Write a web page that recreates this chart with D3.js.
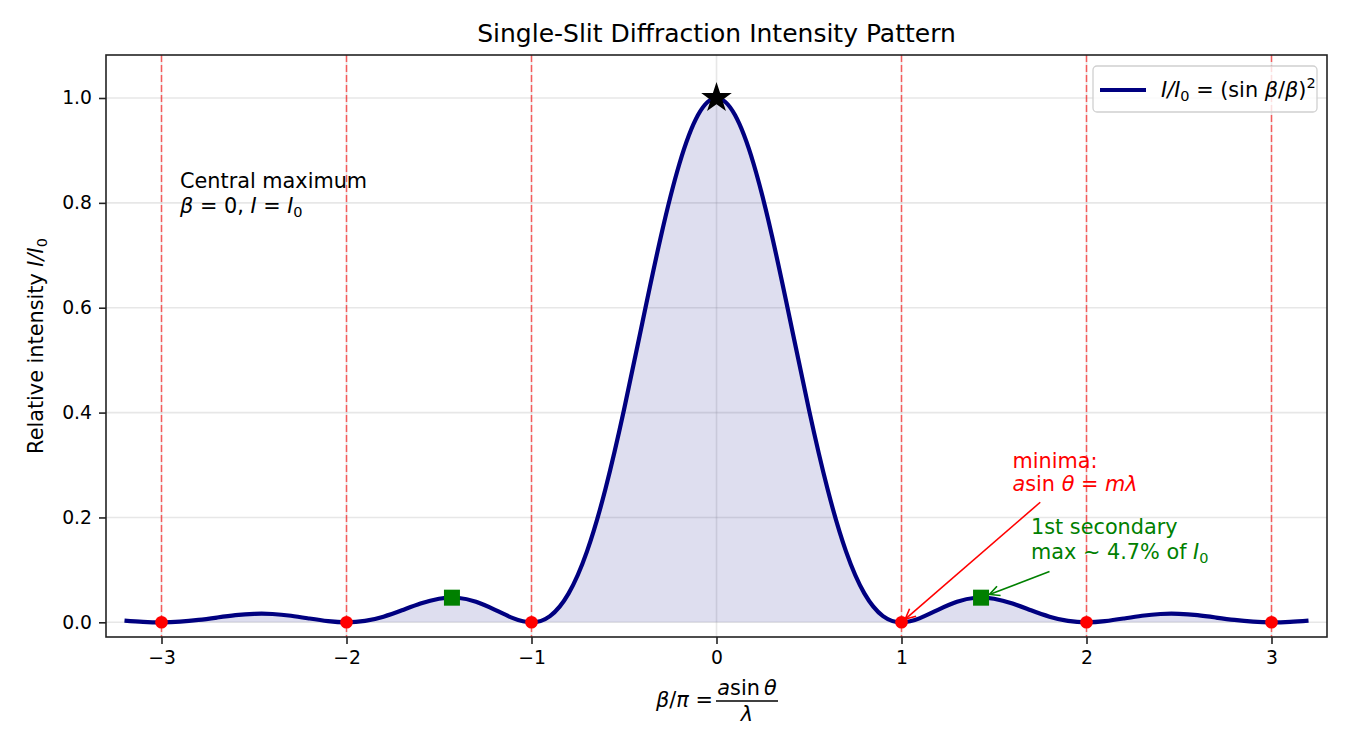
<!DOCTYPE html>
<html>
<head>
<meta charset="utf-8">
<script src="https://cdn.jsdelivr.net/npm/d3@7"></script>
<style>
  body { margin: 0; background: #fff; }
  text { font-family: "DejaVu Sans", sans-serif; }
</style>
</head>
<body>
<div class="canvas"></div>
<script>
// data
const beta = [-3.2, -3.1, -3.0, -2.9, -2.8, -2.7, -2.6, -2.5, -2.4, -2.3, -2.2, -2.1,
  -2.0, -1.9, -1.8, -1.7, -1.6, -1.5, -1.4, -1.3, -1.2, -1.1, -1.0, -0.9, -0.8,
  -0.7, -0.6, -0.5, -0.4, -0.3, -0.2, -0.1, 0.0, 0.1, 0.2, 0.3, 0.4, 0.5, 0.6,
  0.7, 0.8, 0.9, 1.0, 1.1, 1.2, 1.3, 1.4, 1.5, 1.6, 1.7, 1.8, 1.9, 2.0, 2.1, 2.2,
  2.3, 2.4, 2.5, 2.6, 2.7, 2.8, 2.9, 3.0, 3.1, 3.2]
const intensity = [0.0034, 0.0010, 0.0, 0.0012, 0.0045, 0.0091, 0.0136, 0.0162, 0.0159, 0.0125, 0.0072, 0.0022,
  0.0, 0.0027, 0.0108, 0.0229, 0.0358, 0.0450, 0.0468, 0.0392, 0.0243, 0.0080, 0.0, 0.0119, 0.0547,
  0.1353, 0.2546, 0.4053, 0.5728, 0.7368, 0.8751, 0.9675, 1.0, 0.9675, 0.8751, 0.7368, 0.5728, 0.4053, 0.2546,
  0.1353, 0.0547, 0.0119, 0.0, 0.0080, 0.0243, 0.0392, 0.0468, 0.0450, 0.0358, 0.0229, 0.0108, 0.0027, 0.0, 0.0022, 0.0072,
  0.0125, 0.0159, 0.0162, 0.0136, 0.0091, 0.0045, 0.0012, 0.0, 0.0010, 0.0034]

const minimaX = [-3, -2, -1, 1, 2, 3]
const secondaryX = [-1.43, 1.43]
const secondaryY = 0.047
const centralMax = {beta: 0, intensity: 1.0}

const xTicks = [-3, -2, -1, 0, 1, 2, 3]
const yTicks = [0.0, 0.2, 0.4, 0.6, 0.8, 1.0]

const points = beta.map((b, i) => ({b: b, v: intensity[i]}))

// layout
const svgWidth = 1350
const svgHeight = 750
const margin = {top: 55, right: 23, bottom: 113, left: 106}
const graphWidth = svgWidth - margin.left - margin.right
const graphHeight = svgHeight - margin.top - margin.bottom

const svg = d3.select('.canvas')
  .append('svg')
  .attr('width', svgWidth)
  .attr('height', svgHeight)

const graph = svg.append('g')
  .attr('transform', `translate(${margin.left}, ${margin.top})`)

const x = d3.scaleLinear().domain([-3.3, 3.3]).range([0, graphWidth])
const y = d3.scaleLinear().domain([-0.028, 1.082]).range([graphHeight, 0])

// grid
graph.append('g').selectAll('line')
  .data(xTicks).enter().append('line')
  .attr('x1', d => x(d)).attr('x2', d => x(d))
  .attr('y1', 0).attr('y2', graphHeight)
  .attr('stroke', '#b0b0b0').attr('stroke-opacity', 0.3).attr('stroke-width', 1.6)

graph.append('g').selectAll('line')
  .data(yTicks).enter().append('line')
  .attr('x1', 0).attr('x2', graphWidth)
  .attr('y1', d => y(d)).attr('y2', d => y(d))
  .attr('stroke', '#b0b0b0').attr('stroke-opacity', 0.3).attr('stroke-width', 1.6)

// minima dashed lines
graph.append('g').selectAll('line')
  .data(minimaX).enter().append('line')
  .attr('x1', d => x(d)).attr('x2', d => x(d))
  .attr('y1', 0).attr('y2', graphHeight)
  .attr('stroke', 'red').attr('stroke-opacity', 0.6).attr('stroke-width', 1.5)
  .attr('stroke-dasharray', '7,3')

// fill + curve
const area = d3.area()
  .x(d => x(d.b)).y0(y(0)).y1(d => y(d.v))
  .curve(d3.curveNatural)

const line = d3.line()
  .x(d => x(d.b)).y(d => y(d.v))
  .curve(d3.curveNatural)

graph.append('path')
  .datum(points)
  .attr('d', area)
  .attr('fill', 'navy').attr('fill-opacity', 0.13)

graph.append('path')
  .datum(points)
  .attr('d', line)
  .attr('fill', 'none').attr('stroke', 'navy').attr('stroke-width', 4.2)

// markers
graph.append('g').selectAll('circle')
  .data(minimaX).enter().append('circle')
  .attr('cx', d => x(d)).attr('cy', y(0)).attr('r', 6.3)
  .attr('fill', 'red')

graph.append('g').selectAll('rect')
  .data(secondaryX).enter().append('rect')
  .attr('x', d => x(d) - 8).attr('y', y(secondaryY) - 8)
  .attr('width', 16).attr('height', 16)
  .attr('fill', 'green')

graph.append('path')
  .attr('d', d3.symbol().type(d3.symbolStar).size(290)())
  .attr('transform', `translate(${x(centralMax.beta)}, ${y(centralMax.intensity)})`)
  .attr('fill', 'black')

// axes
const xAxis = d3.axisBottom(x)
  .tickValues(xTicks)
  .tickSize(7).tickPadding(7)
  .tickFormat(d => d < 0 ? '\u2212' + Math.abs(d) : d)

const yAxis = d3.axisLeft(y)
  .tickValues(yTicks)
  .tickSize(7).tickPadding(7)
  .tickFormat(d3.format('.1f'))

const xAxisGroup = graph.append('g')
  .attr('transform', `translate(0, ${graphHeight})`)
  .call(xAxis)
const yAxisGroup = graph.append('g').call(yAxis)

;[xAxisGroup, yAxisGroup].forEach(g => {
  g.select('.domain').remove()
  g.selectAll('.tick line').attr('stroke', '#222').attr('stroke-width', 1.6)
  g.selectAll('text').attr('font-size', '18.75px').attr('fill', '#000')
    .attr('font-family', '"DejaVu Sans", sans-serif')
})

// frame
graph.append('rect')
  .attr('width', graphWidth).attr('height', graphHeight)
  .attr('fill', 'none').attr('stroke', '#222').attr('stroke-width', 1.6)

// title
svg.append('text')
  .attr('x', margin.left + graphWidth / 2).attr('y', 42)
  .attr('text-anchor', 'middle').attr('font-size', '25px')
  .text('Single-Slit Diffraction Intensity Pattern')

// y label
const yLabel = svg.append('text')
  .attr('transform', `translate(43, ${margin.top + graphHeight / 2}) rotate(-90)`)
  .attr('text-anchor', 'middle').attr('font-size', '20.8px')
yLabel.append('tspan').text('Relative intensity ')
yLabel.append('tspan').attr('font-style', 'italic').text('I/I')
yLabel.append('tspan').attr('font-size', '14.5px').attr('dy', 4).text('0')

// x label: beta/pi = a sin(theta) / lambda
const xl = svg.append('g').attr('font-size', '20.8px')
xl.append('text').attr('x', 656).attr('y', 707)
  .call(t => {
    t.append('tspan').attr('font-style', 'italic').text('β')
    t.append('tspan').text('/')
    t.append('tspan').attr('font-style', 'italic').text('π')
    t.append('tspan').text(' =')
  })
xl.append('text').attr('x', 747).attr('y', 695).attr('text-anchor', 'middle')
  .call(t => {
    t.append('tspan').attr('font-style', 'italic').text('a')
    t.append('tspan').text('sin')
    t.append('tspan').attr('font-style', 'italic').attr('dx', 4).text('θ')
  })
xl.append('line').attr('x1', 716).attr('x2', 778).attr('y1', 701).attr('y2', 701)
  .attr('stroke', '#000').attr('stroke-width', 1.3)
xl.append('text').attr('x', 747).attr('y', 721).attr('text-anchor', 'middle')
  .attr('font-style', 'italic').text('λ')

// legend
const legend = svg.append('g')
legend.append('rect')
  .attr('x', 1093).attr('y', 66).attr('width', 224).attr('height', 46).attr('rx', 4)
  .attr('fill', '#fff').attr('fill-opacity', 0.8)
  .attr('stroke', '#d0d0d0').attr('stroke-width', 1.3)
legend.append('line')
  .attr('x1', 1100).attr('x2', 1146).attr('y1', 90).attr('y2', 90)
  .attr('stroke', 'navy').attr('stroke-width', 4.2)
legend.append('text').attr('x', 1161).attr('y', 97).attr('font-size', '20.8px')
  .call(t => {
    t.append('tspan').attr('font-style', 'italic').text('I/I')
    t.append('tspan').attr('font-size', '14.5px').attr('dy', 4).text('0')
    t.append('tspan').attr('dy', -4).text(' = (sin ')
    t.append('tspan').attr('font-style', 'italic').text('β')
    t.append('tspan').text('/')
    t.append('tspan').attr('font-style', 'italic').text('β')
    t.append('tspan').text(')')
    t.append('tspan').attr('font-size', '14.5px').attr('dy', -9).text('2')
  })

// annotations
const ann = graph.append('g').attr('font-size', '20.8px')

const central = ann.append('text').attr('x', x(-2.9)).attr('y', y(0.78) - 25)
central.append('tspan').text('Central maximum')
const central2 = ann.append('text').attr('x', x(-2.9)).attr('y', y(0.78))
central2.append('tspan').attr('font-style', 'italic').text('β')
central2.append('tspan').text(' = 0,  ')
central2.append('tspan').attr('font-style', 'italic').text('I')
central2.append('tspan').text(' = ')
central2.append('tspan').attr('font-style', 'italic').text('I')
central2.append('tspan').attr('font-size', '14.5px').attr('dy', 4).text('0')

ann.append('text').attr('x', x(1.6)).attr('y', y(0.25) - 23)
  .attr('fill', 'red').text('minima:')
ann.append('text').attr('x', x(1.6)).attr('y', y(0.25)).attr('fill', 'red')
  .call(t => {
    t.append('tspan').attr('font-style', 'italic').text('a')
    t.append('tspan').text('sin ')
    t.append('tspan').attr('font-style', 'italic').text('θ')
    t.append('tspan').text(' = ')
    t.append('tspan').attr('font-style', 'italic').text('mλ')
  })

ann.append('text').attr('x', x(1.7)).attr('y', y(0.12) - 25)
  .attr('fill', 'green').text('1st secondary')
ann.append('text').attr('x', x(1.7)).attr('y', y(0.12)).attr('fill', 'green')
  .call(t => {
    t.append('tspan').text('max ~ 4.7% of ')
    t.append('tspan').attr('font-style', 'italic').text('I')
    t.append('tspan').attr('font-size', '14.5px').attr('dy', 4).text('0')
  })

// arrows ("->" style: open head)
const arrow = (x0, y0, x1, y1, shrink, color) => {
  const dx = x1 - x0, dy = y1 - y0
  const len = Math.sqrt(dx * dx + dy * dy)
  const ux = dx / len, uy = dy / len
  const tx = x1 - ux * shrink, ty = y1 - uy * shrink
  const hl = 10, hw = 5
  const bx = tx - ux * hl, by = ty - uy * hl
  ann.append('line')
    .attr('x1', x0).attr('y1', y0).attr('x2', tx).attr('y2', ty)
    .attr('stroke', color).attr('stroke-width', 1.6)
  ann.append('path')
    .attr('d', `M${bx - uy * hw},${by + ux * hw}L${tx},${ty}L${bx + uy * hw},${by - ux * hw}`)
    .attr('fill', 'none').attr('stroke', color).attr('stroke-width', 1.6)
}
arrow(x(1.75), y(0.229), x(1), y(0), 5, 'red')
arrow(x(1.80), y(0.097), x(1.43), y(secondaryY), 9, 'green')
</script>
</body>
</html>
